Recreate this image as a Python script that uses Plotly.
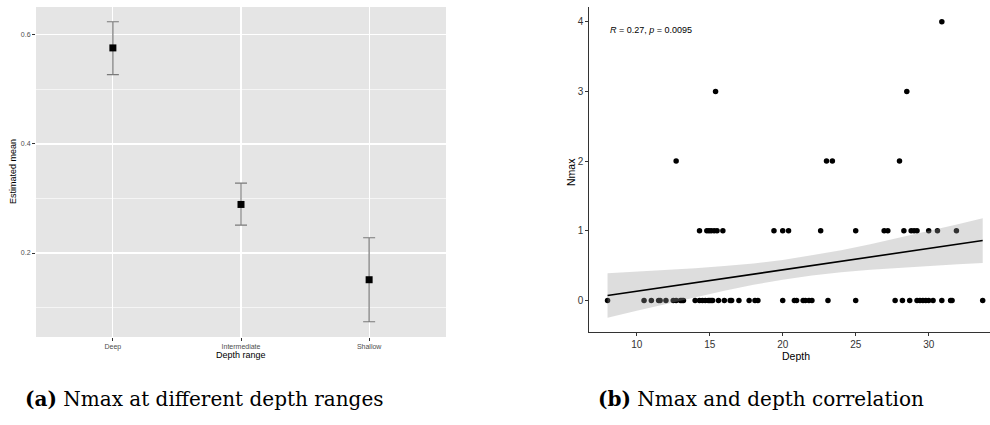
import plotly.graph_objects as go

# ---------------- data: panel (a) ----------------
cat_labels = ["Deep", "Intermediate", "Shallow"]
est_mean = [0.576, 0.289, 0.151]
ci_upper = [0.624, 0.328, 0.228]
ci_lower = [0.527, 0.251, 0.074]

# ---------------- data: panel (b) ----------------
depth = [8.0, 10.5, 11.0, 11.5, 11.6, 12.0, 12.5, 12.7, 13.0, 13.1, 13.2,
         14.0, 14.3, 14.5, 14.7, 14.9, 15.0, 15.1, 15.2, 15.6, 16.0, 16.4,
         16.5, 17.0, 17.7, 18.1, 18.3, 20.0, 20.8, 20.95, 21.4, 21.55, 21.8,
         22.0, 23.1, 25.0, 27.7, 28.2, 28.7, 29.2, 29.4, 29.6, 29.8, 30.0,
         30.3, 30.9, 31.5, 31.6, 33.7,
         14.3, 14.8, 14.95, 15.1, 15.3, 15.5, 15.9, 19.4, 20.0, 20.4, 22.6,
         25.0, 26.95, 27.2, 28.3, 28.8, 29.0, 29.2, 30.0, 30.6, 31.9,
         12.7, 23.0, 23.4, 28.0,
         15.4, 28.5,
         30.9]
nmax = [0] * 49 + [1] * 21 + [2] * 4 + [3] * 2 + [4]

fit_x = [8.0, 33.7]
fit_y = [0.072, 0.861]

band_x = [8, 10, 12, 14, 16, 18, 20, 22, 24, 26, 28, 30, 32, 33.7]
band_lower = [-0.247, -0.146, -0.046, 0.049, 0.142, 0.226, 0.299, 0.359,
              0.406, 0.442, 0.473, 0.498, 0.521, 0.540]
band_upper = [0.391, 0.412, 0.436, 0.463, 0.494, 0.532, 0.581, 0.645,
              0.720, 0.806, 0.899, 0.996, 1.095, 1.182]

stat_label = "<i>R</i> = 0.27, <i>p</i> = 0.0095"
caption_a = "<b>(a)</b> Nmax at different depth ranges"
caption_b = "<b>(b)</b> Nmax and depth correlation"

# ---------------- layout helpers ----------------
W, H = 990, 425
def px(x):
    return x / W
def py(y):
    return 1 - y / H

SANS = "Liberation Sans, Arial, sans-serif"
SERIF = "DejaVu Serif, Liberation Serif, serif"

fig = go.Figure()

err_plus = [u - m for u, m in zip(ci_upper, est_mean)]
err_minus = [m - l for m, l in zip(est_mean, ci_lower)]

fig.add_trace(go.Scatter(
    x=cat_labels, y=est_mean, mode="markers",
    marker=dict(symbol="square", size=7, color="black"),
    error_y=dict(type="data", symmetric=False, array=err_plus,
                 arrayminus=err_minus, color="#7a7a7a", thickness=1.2, width=6),
    xaxis="x", yaxis="y", showlegend=False, hoverinfo="skip"))

fig.add_trace(go.Scatter(
    x=depth, y=nmax, mode="markers",
    marker=dict(size=5.5, color="black"),
    xaxis="x2", yaxis="y2", showlegend=False, hoverinfo="skip"))

fig.add_trace(go.Scatter(
    x=band_x + band_x[::-1], y=band_upper + band_lower[::-1],
    fill="toself", fillcolor="rgba(153,153,153,0.33)",
    line=dict(width=0), mode="lines",
    xaxis="x2", yaxis="y2", showlegend=False, hoverinfo="skip"))

fig.add_trace(go.Scatter(
    x=fit_x, y=fit_y, mode="lines", line=dict(color="black", width=1.6),
    xaxis="x2", yaxis="y2", showlegend=False, hoverinfo="skip"))

tick_a = dict(family=SANS, size=7, color="#4d4d4d")
tick_b = dict(family=SANS, size=10, color="#333333")

fig.update_layout(
    width=W, height=H,
    margin=dict(l=0, r=0, t=0, b=0),
    paper_bgcolor="white", plot_bgcolor="rgba(0,0,0,0)",
    xaxis=dict(domain=[px(36), px(446)], type="category",
               range=[-0.6, 2.6], showgrid=True, gridcolor="white",
               gridwidth=1.2, ticks="outside", ticklen=3,
               tickcolor="#333333", tickwidth=1, tickfont=tick_a,
               zeroline=False, showline=False, anchor="y"),
    yaxis=dict(domain=[py(337), py(7)], range=[0.046, 0.651],
               tickvals=[0.2, 0.4, 0.6], ticktext=["0.2", "0.4", "0.6"],
               showgrid=True, gridcolor="white", gridwidth=1.2,
               minor=dict(tickvals=[0.1, 0.3, 0.5], showgrid=True,
                          gridcolor="white", gridwidth=0.6),
               ticks="outside", ticklen=3, tickcolor="#333333", tickwidth=1,
               tickfont=tick_a, zeroline=False, showline=False, anchor="x"),
    xaxis2=dict(domain=[px(589.3), 1.0], range=[6.75, 34.2],
                tickvals=[10, 15, 20, 25, 30], showgrid=False,
                showline=True, linecolor="#333333", linewidth=1,
                ticks="outside", ticklen=3, tickcolor="#333333",
                tickfont=tick_b, zeroline=False, anchor="y2"),
    yaxis2=dict(domain=[py(332.3), py(7)], range=[-0.455, 4.21],
                tickvals=[0, 1, 2, 3, 4], showgrid=False,
                showline=True, linecolor="#333333", linewidth=1,
                ticks="outside", ticklen=3, tickcolor="#333333",
                tickfont=tick_b, zeroline=False, anchor="x2"),
    shapes=[dict(type="rect", xref="paper", yref="paper",
                 x0=px(36), x1=px(446), y0=py(337), y1=py(7),
                 fillcolor="#e5e5e5", line=dict(width=0), layer="below")],
    annotations=[
        dict(text="Estimated mean", x=px(13), y=py(172), xref="paper",
             yref="paper", textangle=-90, showarrow=False,
             font=dict(family=SANS, size=9, color="black"),
             xanchor="center", yanchor="middle"),
        dict(text="Depth range", x=px(241), y=py(355), xref="paper",
             yref="paper", showarrow=False,
             font=dict(family=SANS, size=9, color="black"),
             xanchor="center", yanchor="middle"),
        dict(text="Nmax", x=px(571), y=py(172), xref="paper", yref="paper",
             textangle=-90, showarrow=False,
             font=dict(family=SANS, size=10.5, color="black"),
             xanchor="center", yanchor="middle"),
        dict(text="Depth", x=px(795.5), y=py(355.5), xref="paper",
             yref="paper", showarrow=False,
             font=dict(family=SANS, size=10.5, color="black"),
             xanchor="center", yanchor="middle"),
        dict(text=stat_label, x=px(607.5), y=py(29.5), xref="paper",
             yref="paper", showarrow=False,
             font=dict(family=SANS, size=9, color="black"),
             xanchor="left", yanchor="middle"),
        dict(text=caption_a, x=px(22.5), y=py(399), xref="paper",
             yref="paper", showarrow=False,
             font=dict(family=SERIF, size=20, color="black"),
             xanchor="left", yanchor="middle"),
        dict(text=caption_b, x=px(596), y=py(399), xref="paper",
             yref="paper", showarrow=False,
             font=dict(family=SERIF, size=20, color="black"),
             xanchor="left", yanchor="middle"),
    ],
)

fig.write_html("out.html",
               config={"displayModeBar": False, "staticPlot": True},
               post_script="document.body.style.margin='0px';"
                           "document.body.style.overflow='hidden';")
